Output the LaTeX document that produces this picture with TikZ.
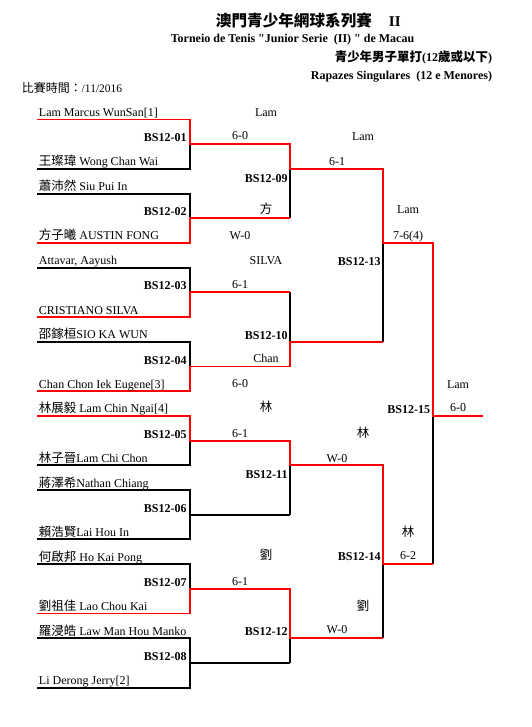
\documentclass[tikz,border=0pt]{standalone}
\usepackage{fontspec}
\setmainfont{Liberation Serif}[Ligatures=TeXOff]
\newfontfamily\cjk{Noto Sans CJK TC}[Scale=1.04]

\begin{document}
\begin{tikzpicture}[x=1pt,y=-1pt,
    line width=1.9pt,
    loser/.style={draw=black},
    winner/.style={draw=red},
    player/.style={anchor=base west, inner sep=0pt, xshift=1pt, yshift=3pt,
        font=\fontsize{12}{14}\selectfont},
    matchno/.style={anchor=base east, inner sep=0pt,
        font=\fontsize{12}{14}\selectfont\bfseries},
    result/.style={anchor=base, inner sep=0pt,
        font=\fontsize{12}{14}\selectfont},
    heading/.style={inner sep=0pt, font=\fontsize{12}{14}\selectfont\bfseries}
]
\useasboundingbox (0,0) rectangle (531,727);

\node[heading, anchor=base west, font=\fontsize{15}{18}\selectfont\bfseries] (title)
    at (215,26.5) {{\cjk 澳門青少年網球系列賽}\hspace{17pt}II};
\node[heading, anchor=base] (subtitle) at (292.5,42.5)
    {Torneio de Tenis "Junior Serie\ \ (II) " de Macau};
\node[heading, anchor=base east] (event) at (493,61.5)
    {{\cjk 青少年男子單打}(12{\cjk 歲或以下})};
\node[heading, anchor=base east] (eventpt) at (493,79.5)
    {Rapazes Singulares\ \ (12 e Menores)};
\node[anchor=base west, inner sep=0pt, font=\fontsize{11.5}{14}\selectfont] (date)
    at (21,92.5) {{\cjk 比賽時間：}/11/2016};

% columns and rows of the draw
\coordinate (c0) at (37,0);
\coordinate (c1) at (190,0);
\coordinate (c2) at (290,0);
\coordinate (c3) at (383,0);
\coordinate (c4) at (433,0);
\coordinate (c5) at (483,0);
\foreach \k in {0,...,23}
  \coordinate (r\k) at (0,{119.5+24.7*\k});

% bracket
\foreach \t/\m/\b in {0/1/2,3/4/5,6/7/8,9/10/11,12/13/14,15/16/17,18/19/20,21/22/23}{
  \draw[loser] (c0|-r\t) -- (c1|-r\t) -- (c1|-r\b) -- (c0|-r\b);
  \draw[loser] (c1|-r\m) -- (c2|-r\m);
}
\foreach \t/\o/\b in {1/2/4,7/9/10,13/14/16,19/21/22}{
  \draw[loser] (c2|-r\t) -- (c2|-r\b);
  \draw[loser] (c2|-r\o) -- (c3|-r\o);
}
\foreach \t/\o/\b in {2/5/9,14/18/21}{
  \draw[loser] (c3|-r\t) -- (c3|-r\b);
  \draw[loser] (c3|-r\o) -- (c4|-r\o);
}
\draw[loser] (c4|-r5) -- (c4|-r18);
\draw[loser] (c4|-r12) -- (c5|-r12);

% winners
\draw[winner] (c0|-r0) -- (c1|-r0) -- (c1|-r1) -- (c2|-r1) -- (c2|-r2) -- (c3|-r2)
    -- (c3|-r5) -- (c4|-r5) -- (c4|-r12) -- (c5|-r12);
\draw[winner] (c0|-r5) -- (c1|-r5) -- (c1|-r4) -- (c2|-r4);
\draw[winner] (c0|-r8) -- (c1|-r8) -- (c1|-r7) -- (c2|-r7);
\draw[winner] (c0|-r11) -- (c1|-r11) -- (c1|-r10) -- (c2|-r10) -- (c2|-r9) -- (c3|-r9);
\draw[winner] (c0|-r12) -- (c1|-r12) -- (c1|-r13) -- (c2|-r13) -- (c2|-r14) -- (c3|-r14)
    -- (c3|-r18) -- (c4|-r18);
\draw[winner] (c0|-r20) -- (c1|-r20) -- (c1|-r19) -- (c2|-r19) -- (c2|-r21) -- (c3|-r21);

% players
\node[player] (p01) at (c0|-r0) {Lam Marcus WunSan[1]};
\node[player] (p02) at (c0|-r2) {{\cjk 王璨瑋} Wong Chan Wai};
\node[player] (p03) at (c0|-r3) {{\cjk 蕭沛然} Siu Pui In};
\node[player] (p04) at (c0|-r5) {{\cjk 方子曦} AUSTIN FONG};
\node[player] (p05) at (c0|-r6) {Attavar, Aayush};
\node[player] (p06) at (c0|-r8) {CRISTIANO SILVA};
\node[player] (p07) at (c0|-r9) {{\cjk 邵鎵桓}SIO KA WUN};
\node[player] (p08) at (c0|-r11) {Chan Chon Iek Eugene[3]};
\node[player] (p09) at (c0|-r12) {{\cjk 林展毅} Lam Chin Ngai[4]};
\node[player] (p10) at (c0|-r14) {{\cjk 林子晉}Lam Chi Chon};
\node[player] (p11) at (c0|-r15) {{\cjk 蔣澤希}Nathan Chiang};
\node[player] (p12) at (c0|-r17) {{\cjk 賴浩賢}Lai Hou In};
\node[player] (p13) at (c0|-r18) {{\cjk 何啟邦} Ho Kai Pong};
\node[player] (p14) at (c0|-r20) {{\cjk 劉祖佳} Lao Chou Kai};
\node[player] (p15) at (c0|-r21) {{\cjk 羅浸皓} Law Man Hou Manko};
\node[player] (p16) at (c0|-r23) {Li Derong Jerry[2]};

% match numbers
\node[matchno] (m01) at (187.5,141.7) {BS12-01};
\node[matchno] (m02) at (187.5,215.8) {BS12-02};
\node[matchno] (m03) at (187.5,289.9) {BS12-03};
\node[matchno] (m04) at (187.5,364) {BS12-04};
\node[matchno] (m05) at (187.5,438.1) {BS12-05};
\node[matchno] (m06) at (187.5,512.2) {BS12-06};
\node[matchno] (m07) at (187.5,586.3) {BS12-07};
\node[matchno] (m08) at (187.5,660.4) {BS12-08};
\node[matchno] (m09) at (288.5,183) {BS12-09};
\node[matchno] (m10) at (288.5,339) {BS12-10};
\node[matchno] (m11) at (288.5,478) {BS12-11};
\node[matchno] (m12) at (288.5,635) {BS12-12};
\node[matchno] (m13) at (381.5,265) {BS12-13};
\node[matchno] (m14) at (381.5,560) {BS12-14};
\node[matchno] (m15) at (431,413) {BS12-15};

% winners and scores
\node[result] (w01) at (266,117) {Lam};
\node[result] (s01) at (240,140) {6-0};
\node[result] (w02) at (266,214) {\cjk 方};
\node[result] (s02) at (240,239) {W-0};
\node[result] (w03) at (266,264) {SILVA};
\node[result] (s03) at (240,288) {6-1};
\node[result] (w04) at (266,362) {Chan};
\node[result] (s04) at (240,387) {6-0};
\node[result] (w05) at (266,411) {\cjk 林};
\node[result] (s05) at (240,437) {6-1};
\node[result] (w07) at (266,559) {\cjk 劉};
\node[result] (s07) at (240,585) {6-1};
\node[result] (w09) at (363,141) {Lam};
\node[result] (s09) at (337,166) {6-1};
\node[result] (w11) at (363,437) {\cjk 林};
\node[result] (s11) at (337,462) {W-0};
\node[result] (w12) at (363,610) {\cjk 劉};
\node[result] (s12) at (337,633) {W-0};
\node[result] (w13) at (408,214) {Lam};
\node[result] (s13) at (408,240) {7-6(4)};
\node[result] (w14) at (408,536) {\cjk 林};
\node[result] (s14) at (408,559) {6-2};
\node[result] (w15) at (458,388) {Lam};
\node[result] (s15) at (458,411) {6-0};

\end{tikzpicture}
\end{document}
